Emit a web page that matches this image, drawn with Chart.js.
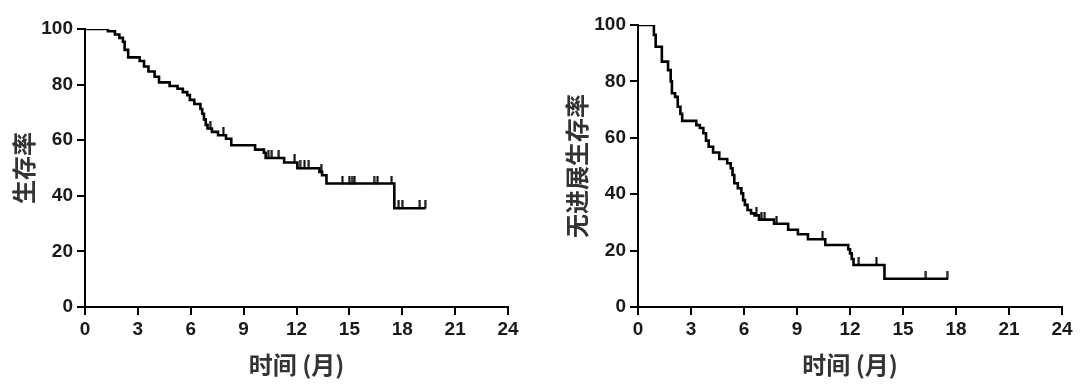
<!DOCTYPE html>
<html>
<head>
<meta charset="utf-8">
<script src="https://cdn.jsdelivr.net/npm/chart.js@4.4.1/dist/chart.umd.min.js"></script>
<style>
  html, body { margin: 0; padding: 0; background: #ffffff; }
  body { width: 1080px; height: 388px; position: relative; overflow: hidden; }
  .panel { position: absolute; top: 0; }
</style>
</head>
<body>
<div class="panel" style="left:0px;"><canvas id="os" width="540" height="388"></canvas></div>
<div class="panel" style="left:550px;"><canvas id="pfs" width="530" height="388"></canvas></div>
<script>
// ---- Data ----
const xTicks = [0, 3, 6, 9, 12, 15, 18, 21, 24];
const yTicks = [0, 20, 40, 60, 80, 100];
const xTitle = '时间 (月)';
const osTitle = '生存率';
const pfsTitle = '无进展生存率';

// Overall survival (left panel): step times (months) and survival (%)
const osTimes = [0, 1.3, 1.7, 1.95, 2.15, 2.25, 2.45, 3.1, 3.35, 3.6, 3.95, 4.2, 4.8, 5.25, 5.55, 5.8, 5.95, 6.2, 6.55, 6.65, 6.75, 6.85, 6.95, 7.2, 7.55, 8.0, 8.3, 9.65, 10.15, 10.25, 11.3, 12.05, 13.3, 13.45, 13.7, 17.55, 19.3];
const osSurv  = [100, 99.2, 98, 96.8, 95.4, 92.5, 89.8, 88.5, 86.5, 84.7, 82.8, 80.8, 79.5, 78.5, 77.3, 76.2, 74.5, 73.0, 71.2, 69.5, 67.5, 65.5, 64.2, 63.0, 61.8, 60.5, 58.2, 56.6, 55.5, 53.6, 52.0, 49.9, 48.6, 47.4, 44.4, 35.5, 35.5];
const osCensorTimes = [7.1, 7.85, 10.4, 10.6, 11.0, 11.9, 12.2, 12.45, 12.7, 13.4, 14.6, 15.0, 15.15, 15.3, 16.4, 16.6, 17.4, 17.8, 18.0, 19.0, 19.3];
const osCensorSurv  = [64.2, 61.8, 53.6, 53.6, 53.6, 52.0, 49.9, 49.9, 49.9, 48.6, 44.4, 44.4, 44.4, 44.4, 44.4, 44.4, 44.4, 35.5, 35.5, 35.5, 35.5];

// Progression-free survival (right panel)
const pfsTimes = [0, 0.9, 1.0, 1.35, 1.7, 1.85, 1.92, 2.1, 2.25, 2.4, 2.5, 3.3, 3.5, 3.7, 3.85, 4.0, 4.25, 4.6, 5.05, 5.25, 5.35, 5.45, 5.65, 5.85, 5.95, 6.05, 6.2, 6.4, 6.6, 6.85, 7.7, 8.5, 9.05, 9.62, 10.6, 11.9, 12.0, 12.1, 12.2, 13.95, 17.55];
const pfsSurv  = [100, 96.5, 92.3, 87.0, 84.0, 80.0, 75.8, 74.5, 71.0, 68.5, 66.0, 64.5, 63.5, 61.6, 59.0, 56.8, 54.8, 52.5, 51.0, 49.2, 46.8, 43.9, 42.1, 40.3, 37.9, 36.2, 34.4, 33.2, 32.5, 31.0, 29.5, 27.4, 25.8, 24.0, 22.0, 20.5, 19.0, 17.0, 14.9, 10.0, 10.0];
const pfsCensorTimes = [6.7, 6.98, 7.17, 7.85, 10.45, 12.5, 13.5, 16.3, 17.5];
const pfsCensorSurv  = [32.5, 31.0, 31.0, 29.5, 24.0, 14.9, 14.9, 10.0, 10.0];

// ---- Styling helpers ----
const FONT = "'Liberation Sans', 'Noto Sans CJK SC', Arial, sans-serif";
const CJK = "'Noto Sans CJK SC', 'Liberation Sans', sans-serif";

// censor mark: an upward tick; image centred on the point so only the top half is inked
function censorMark() {
  const c = document.createElement('canvas');
  c.width = 3; c.height = 16;
  const g = c.getContext('2d');
  g.fillStyle = '#000';
  g.fillRect(0.5, 0, 2, 8.5);
  return c;
}
const mark = censorMark();

function pts(xs, ys) { return xs.map((x, i) => ({ x: x, y: ys[i] })); }

function makeChart(id, times, surv, cTimes, cSurv, yTitle, pad) {
  return new Chart(document.getElementById(id), {
    type: 'line',
    data: {
      datasets: [
        {
          data: pts(times, surv),
          stepped: 'before',
          borderColor: '#000',
          borderWidth: 2.6,
          pointRadius: 0,
          fill: false
        },
        {
          data: pts(cTimes, cSurv),
          showLine: false,
          pointStyle: mark,
          pointRadius: 8,
          borderColor: '#000',
          backgroundColor: '#000'
        }
      ]
    },
    options: {
      responsive: false,
      animation: false,
      devicePixelRatio: 1,
      layout: { padding: pad },
      plugins: { legend: { display: false }, tooltip: { enabled: false } },
      scales: {
        x: {
          type: 'linear',
          min: 0, max: 24,
          afterBuildTicks: (s) => { s.ticks = xTicks.map(v => ({ value: v })); },
          afterFit: (s) => { s.height = 72; },
          border: { display: true, color: '#000', width: 2 },
          grid: { display: true, drawOnChartArea: false, drawTicks: true, tickLength: 8, color: '#000', lineWidth: 2 },
          ticks: { color: '#1a1a1a', padding: 3, maxRotation: 0, autoSkip: false, font: { family: FONT, size: 19, weight: 'bold' } },
          title: { display: true, text: xTitle, color: '#333', padding: 0, font: { family: CJK, size: 24, weight: 'bold' } }
        },
        y: {
          type: 'linear',
          min: 0, max: 100,
          afterBuildTicks: (s) => { s.ticks = yTicks.map(v => ({ value: v })); },
          afterFit: (s) => { s.width = 76; },
          border: { display: true, color: '#000', width: 2 },
          grid: { display: true, drawOnChartArea: false, drawTicks: true, tickLength: 8, color: '#000', lineWidth: 2 },
          ticks: { color: '#1a1a1a', padding: 4, font: { family: FONT, size: 19, weight: 'bold' } },
          title: { display: true, text: yTitle, color: '#333', padding: 0, font: { family: CJK, size: 24, weight: 'bold' } }
        }
      }
    }
  });
}

makeChart('os', osTimes, osSurv, osCensorTimes, osCensorSurv, osTitle, { top: 29, right: 32, bottom: 9, left: 9 });
makeChart('pfs', pfsTimes, pfsSurv, pfsCensorTimes, pfsCensorSurv, pfsTitle, { top: 25, right: 18, bottom: 9, left: 12 });
</script>
</body>
</html>
